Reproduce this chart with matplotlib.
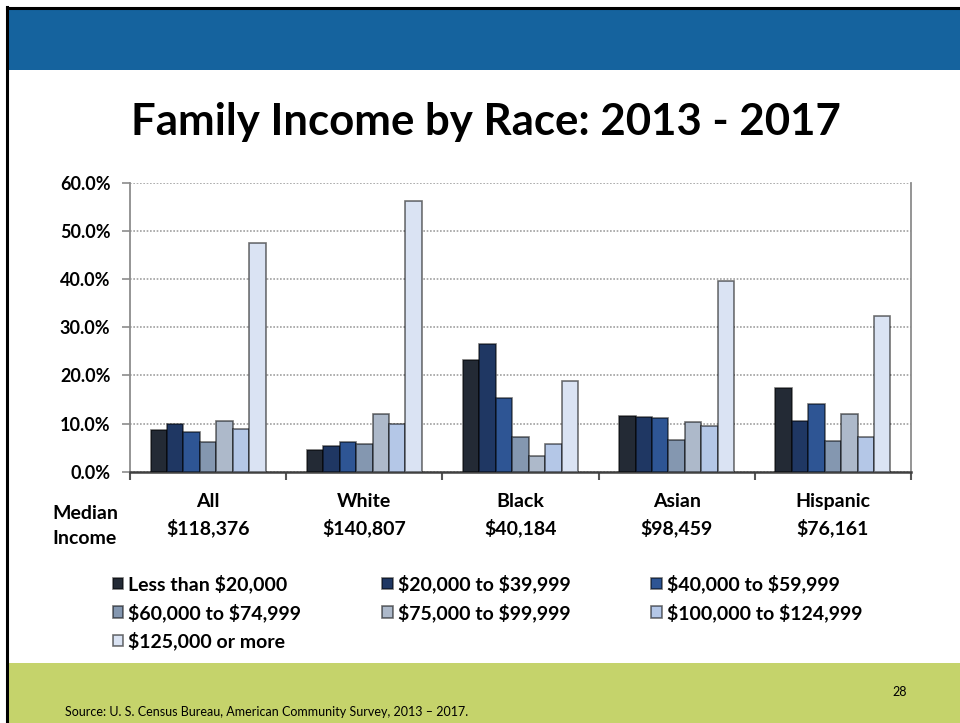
import matplotlib
matplotlib.use("Agg")
import matplotlib.pyplot as plt
from matplotlib.patches import Rectangle
import numpy as np

plt.rcParams['text.parse_math'] = False
plt.rcParams['font.family'] = ['Lato', 'DejaVu Sans']

groups = ["All", "White", "Black", "Asian", "Hispanic"]
median_income = ["$118,376", "$140,807", "$40,184", "$98,459", "$76,161"]
series = ["Less than $20,000", "$20,000 to $39,999", "$40,000 to $59,999",
          "$60,000 to $74,999", "$75,000 to $99,999", "$100,000 to $124,999",
          "$125,000 or more"]
values = [
    [8.7, 4.5, 23.2, 11.6, 17.4],
    [10.0, 5.3, 26.6, 11.4, 10.6],
    [8.2, 6.2, 15.2, 11.1, 14.0],
    [6.2, 5.8, 7.3, 6.6, 6.4],
    [10.6, 12.0, 3.3, 10.3, 12.0],
    [8.9, 10.0, 5.8, 9.5, 7.3],
    [47.5, 56.1, 18.9, 39.6, 32.4],
]
yticks = [0, 10, 20, 30, 40, 50, 60]
colors = ['#232A35', '#1F3763', '#2E5594', '#8497B0', '#ADB9CA', '#B4C7E7', '#DAE3F3']

fig = plt.figure(figsize=(9.6, 7.23), dpi=100)

# slide decorations
fig.patches.append(Rectangle((8/960, 1 - 70/723), 1, 61/723, transform=fig.transFigure,
                             facecolor='#15639E', edgecolor='none', zorder=0))
fig.patches.append(Rectangle((8/960, 0), 1, 60/723, transform=fig.transFigure,
                             facecolor='#C5D36B', edgecolor='none', zorder=0))
fig.add_artist(plt.Line2D([7/960, 7/960], [0, 1 - 7/723], transform=fig.transFigure,
                          color='black', lw=2.2))
fig.add_artist(plt.Line2D([7/960, 1], [1 - 8/723, 1 - 8/723], transform=fig.transFigure,
                          color='black', lw=2.2))

fig.text(486/960, 1 - 122/723, "Family Income by Race: 2013 - 2017", ha='center', va='center',
         fontsize=31.5, fontweight='bold', color='black')

ax = fig.add_axes([130/960, 1 - 471.7/723, 781/960, 289/723])
x = np.arange(len(groups))
w = 0.105
handles = []
for i, (name, vals) in enumerate(zip(series, values)):
    off = (i - 3) * w
    b = ax.bar(x + off, vals, width=w, color=colors[i], edgecolor=(0, 0, 0, 0.55),
               linewidth=1.2, label=name, zorder=3)
    handles.append(b)

ax.set_xlim(-0.5, len(groups) - 0.5)
ax.set_ylim(0, 60)
ax.set_yticks(yticks)
ax.set_yticklabels([f"{v:.1f}%" for v in yticks], fontsize=13, fontweight='bold')
ax.yaxis.grid(True, linestyle=(0, (1, 1)), color='#A0A0A0', lw=1.2, zorder=0)
ax.set_axisbelow(True)
ax.tick_params(axis='y', length=6, width=1.2, color='#8C8C8C', pad=8)

ax.set_xticks(x)
ax.set_xticklabels([f"{g}\n{m}" for g, m in zip(groups, median_income)],
                   fontsize=14, fontweight='bold', linespacing=1.55)
ax.tick_params(axis='x', which='major', length=0, pad=15)
ax.set_xticks(np.arange(-0.5, len(groups) + 0.5, 1), minor=True)
ax.tick_params(axis='x', which='minor', length=6, width=1.5, color='#555555')

for s in ['left', 'right']:
    ax.spines[s].set_color('#8C8C8C')
    ax.spines[s].set_linewidth(1.3)
ax.spines['top'].set_visible(False)
ax.spines['bottom'].set_color('#404040')
ax.spines['bottom'].set_linewidth(1.8)

fig.text(85/960, 1 - 526/723, "Median\nIncome", ha='center', va='center',
         fontsize=14, fontweight='bold', linespacing=1.55)

order = [0, 3, 6, 1, 4, 2, 5]
leg = fig.legend([handles[k] for k in order], [series[k] for k in order], ncol=3,
                 loc='upper left', bbox_to_anchor=(103/960, 1 - 565/723), frameon=False,
                 prop={'size': 14, 'weight': 'bold'}, handlelength=0.55, handleheight=0.55,
                 handletextpad=0.25, labelspacing=0.5, columnspacing=4.15, borderpad=0)

fig.text(65/960, 1 - 712/723, "Source: U. S. Census Bureau, American Community Survey, 2013 \u2013 2017.",
         ha='left', va='center', fontsize=9)
fig.text(900/960, 1 - 692/723, "28", ha='center', va='center', fontsize=9)

fig.savefig("out.png", dpi=100)
